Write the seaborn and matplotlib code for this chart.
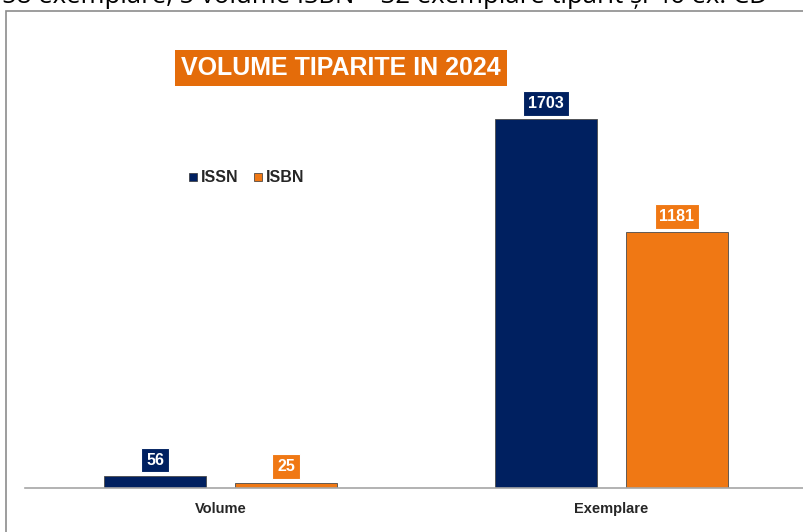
import pandas as pd
import matplotlib.pyplot as plt
from matplotlib.lines import Line2D
from matplotlib.patches import Rectangle
import seaborn as sb

# date grafic
categorii = ["Volume", "Exemplare"]
serii = ["ISSN", "ISBN"]
issn = [56, 1703]
isbn = [25, 1181]
titlu = "VOLUME TIPARITE IN 2024"
text_sus = "58 exemplare, 5 volume ISBN \u2013 32 exemplare tip\u0103rit \u0219i 46 ex. CD"

culori = {"ISSN": "#002060", "ISBN": "#F07814"}

df = pd.DataFrame({
    "categorie": categorii * 2,
    "serie": ["ISSN"] * 2 + ["ISBN"] * 2,
    "valoare": issn + isbn,
})

sb.set_style("white")
plt.rcParams["font.family"] = ["Liberation Sans", "DejaVu Sans"]

fig = plt.figure(figsize=(8.04, 5.32), dpi=100)
ax = fig.add_axes([25 / 804, 1 - 488 / 532, 782 / 804, 433 / 532])

sb.barplot(data=df, x="categorie", y="valoare", hue="serie", palette=culori,
           order=categorii, hue_order=serii, width=0.67, gap=0.215,
           saturation=1, edgecolor="#4a4a4a", linewidth=0.6, legend=False,
           ax=ax)

ax.set_xlim(-0.5, 1.5)
ax.set_ylim(0, 2000)
ax.set_yticks([])
ax.set_xlabel("")
ax.set_ylabel("")
for s in ["top", "right", "left"]:
    ax.spines[s].set_visible(False)
ax.spines["bottom"].set_color("#A6A6A6")
ax.spines["bottom"].set_linewidth(1.2)
ax.tick_params(axis="x", length=0, pad=10)
for lbl in ax.get_xticklabels():
    lbl.set_fontweight("bold")
    lbl.set_fontsize(10.5)

# etichete valori
for cont, serie in zip(ax.containers, serii):
    for bar in cont:
        h = bar.get_height()
        ax.annotate(f"{int(h)}", (bar.get_x() + bar.get_width() / 2, h),
                    xytext=(0, 6), textcoords="offset points",
                    ha="center", va="bottom", color="white",
                    fontsize=11.5, fontweight="bold",
                    bbox=dict(boxstyle="square,pad=0.3", fc=culori[serie],
                              ec="white", lw=0.8))

# legenda
handles = [Line2D([], [], marker="s", linestyle="", markersize=6,
                  markerfacecolor=culori[s], markeredgecolor="#333333",
                  markeredgewidth=0.5) for s in serii]
fig.legend(handles, serii, loc="center left",
           bbox_to_anchor=(172 / 804, 1 - 178 / 532), ncol=2, frameon=False,
           handletextpad=0.1, columnspacing=0.8, handlelength=0.8,
           prop={"weight": "bold", "size": 11.5})

# titlu
fig.text(341 / 804, 1 - 68 / 532, titlu, ha="center", va="center",
         color="white", fontsize=18, fontweight="bold",
         bbox=dict(boxstyle="square,pad=0.25", fc="#E46C0A", ec="none"))

# cadru si text taiat sus
fig.add_artist(Rectangle((6 / 804, -0.1), 1.2, 1.1 - 11 / 532,
                         transform=fig.transFigure, fill=False,
                         ec="#8C8C8C", lw=1.2))
fig.text(2 / 804, 1 - 3 / 532, text_sus, ha="left", va="baseline",
         fontsize=18.5, color="black", family=["Open Sans", "DejaVu Sans"])

fig.savefig("out.png", dpi=100)
